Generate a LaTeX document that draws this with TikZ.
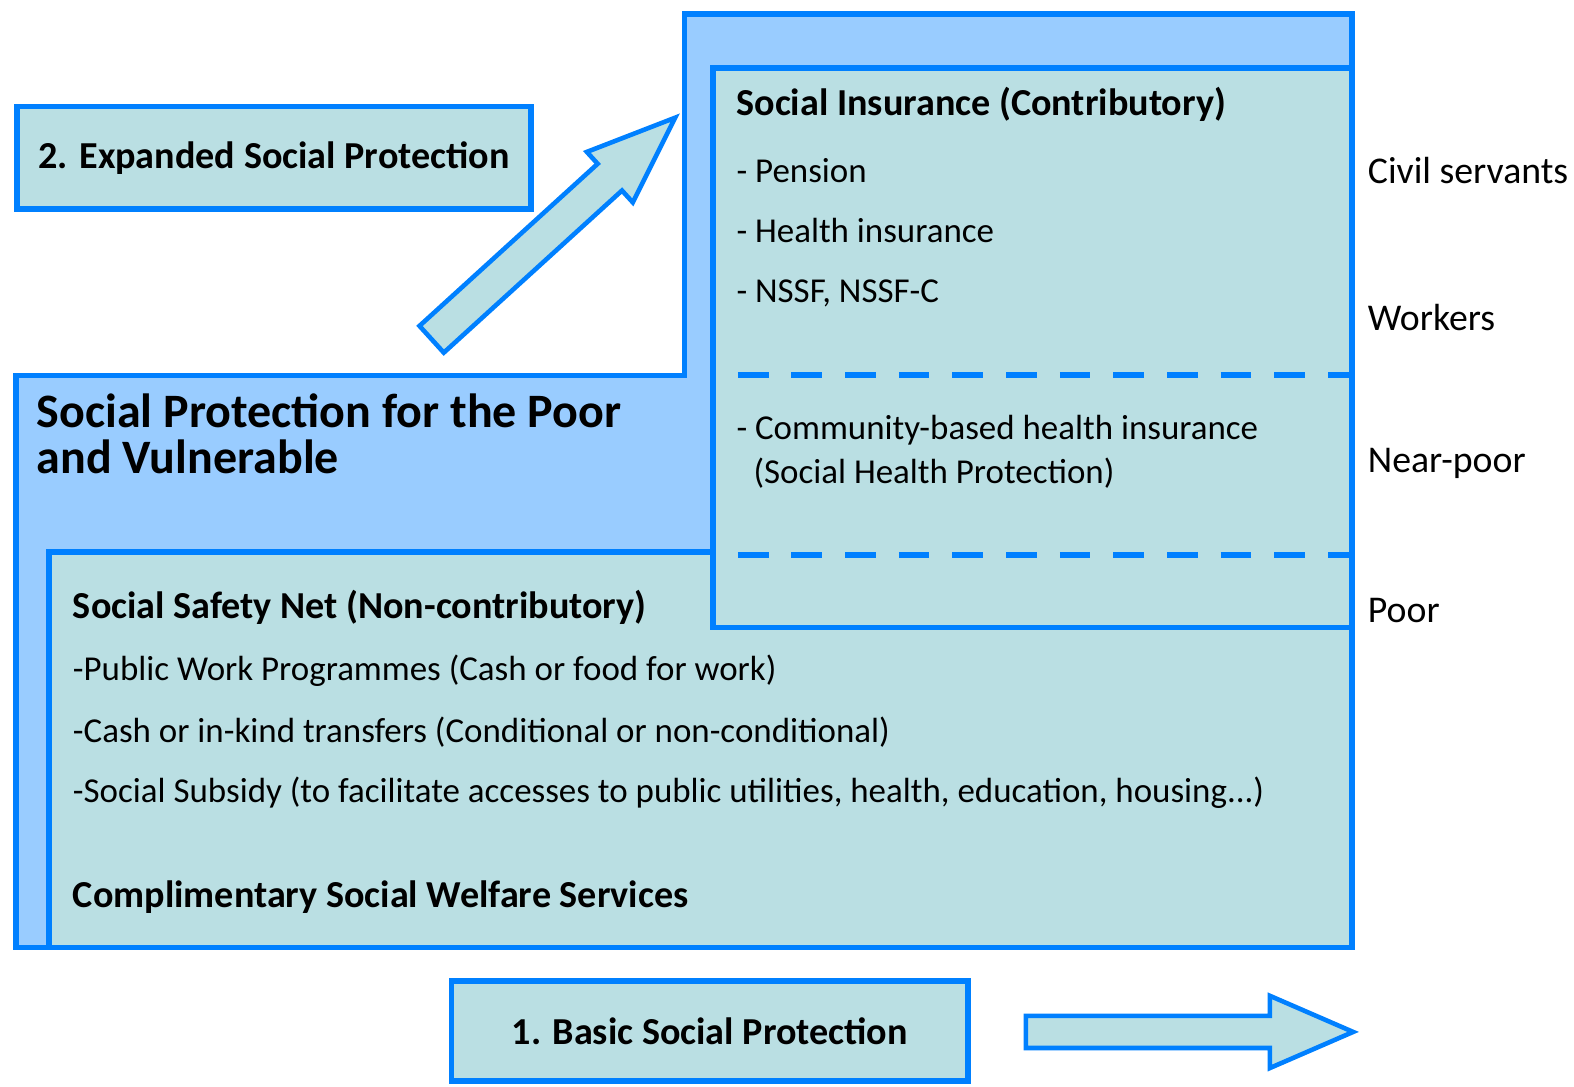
\documentclass[tikz,border=0pt]{standalone}
\usepackage{fontspec}
\setmainfont{Carlito}
\usetikzlibrary{positioning}
\definecolor{edgeblue}{HTML}{0080FF}
\definecolor{skyfill}{HTML}{99CCFF}
\definecolor{tealfill}{HTML}{BADFE3}

\begin{document}
\begin{tikzpicture}[x=0.01cm, y=-0.01cm,
    frame/.style={draw=edgeblue, line width=1.6pt},
    box/.style={frame, fill=tealfill, rectangle, inner sep=0pt, font=\bfseries\fontsize{10.8}{13}\selectfont},
    txt/.style={anchor=west, inner sep=0pt, font=\fontsize{9.9}{12}\selectfont},
    side/.style={txt, font=\fontsize{10.7}{13}\selectfont},
    bold/.style={txt, font=\bfseries\fontsize{10.8}{13}\selectfont},
    divider/.style={draw=edgeblue, line width=1.7pt, dash pattern=on 8.7pt off 6.5pt}]
    \useasboundingbox (0,0) rectangle (1568,1082);

    \draw[frame, fill=skyfill] (16,374) -- (682,374) -- (682,14) -- (1347,14) -- (1347,944) -- (16,944) -- cycle;
    \draw[frame, fill=tealfill] (49,550) rectangle (1347,944);
    \draw[frame, fill=tealfill] (710,68) rectangle (1347,625);
    \coordinate (cut1a) at (735,374);
    \coordinate (cut1b) at (1347,374);
    \coordinate (cut2a) at (735,553);
    \coordinate (cut2b) at (1347,553);
    \draw[divider] (cut1a) -- (cut1b);
    \draw[divider] (cut2a) -- (cut2b);

    \node (expanded) [box, minimum width=5.12cm, minimum height=1.02cm] at (273,157) {2. Expanded Social Protection};
    \node (basic) [box, minimum width=5.14cm, minimum height=1.0cm] at (707,1027) {1. Basic Social Protection};

    \begin{scope}[shift={(430,338)}, rotate=42.3]
        \draw[frame, line width=1.3pt, fill=tealfill] (0,-18) -- (240,-18) -- (240,-34) -- (328,0) -- (240,34) -- (240,18) -- (0,18) -- cycle;
    \end{scope}
    \draw[frame, line width=1.3pt, fill=tealfill] (1022,1012) -- (1265,1012) -- (1265,992) -- (1348,1028) -- (1265,1064) -- (1265,1044) -- (1022,1044) -- cycle;

    \node (insurance) [bold] at (733,104) {Social Insurance (Contributory)};
    \node (pension) [txt] at (733,170) {- Pension};
    \node (health) [txt] at (733,230) {- Health insurance};
    \node (nssf) [txt] at (733,292) {- NSSF, NSSF-C};
    \node (community) [txt] at (733,429) {- Community-based health insurance};
    \node (shp) [txt] at (750,471) {(Social Health Protection)};

    \node (civil) [side] at (1362,170) {Civil servants};
    \node (workers) [side] at (1362,316) {Workers};
    \node (nearpoor) [side] at (1362,462) {Near-poor};
    \node (poor) [side] at (1362,608) {Poor};

    \node (vulnerable) [bold, align=left, font=\bfseries\fontsize{13.6}{13.2}\selectfont] at (36,432) {Social Protection for the Poor\\and Vulnerable};

    \node (safetynet) [bold] at (72,605) {Social Safety Net (Non-contributory)};
    \node (publicwork) [txt] at (72,668) {-Public Work Programmes (Cash or food for work)};
    \node (transfers) [txt] at (72,729) {-Cash or in-kind transfers (Conditional or non-conditional)};
    \node (subsidy) [txt] at (72,790) {-Social Subsidy (to facilitate accesses to public utilities, health, education, housing...)};
    \node (welfare) [bold] at (72,894) {Complimentary Social Welfare Services};
\end{tikzpicture}
\end{document}
